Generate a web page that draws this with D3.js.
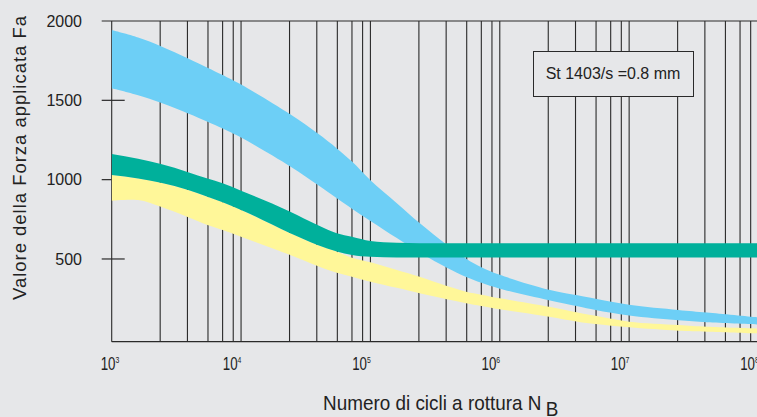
<!DOCTYPE html>
<html><head><meta charset="utf-8">
<script src="https://cdn.jsdelivr.net/npm/d3@7"></script>
<style>html,body{margin:0;padding:0;background:#e6e7e9;overflow:hidden}svg{display:block}</style>
</head><body><svg id="c" width="757" height="417"></svg>
<script>
// ---- data ----
const cycles      = [1e3,1.6e3,2.4e3,3.9e3,5.5e3,7.2e3,1e4,2.4e4,3.9e4,5.5e4,7.2e4,1e5,1.6e5,2.4e5,3.9e5,5.5e5,7.2e5,1e6,2.4e6,4e6,5.5e6,1e7,2.4e7,4e7,1e8];
const blueUpper   = [1943,1896,1841,1764,1706,1660,1600,1412,1292,1197,1114,997,852,727,590,502,448,400,306,271,250,212,179,162,131];
const blueLower   = [1576,1532,1484,1417,1365,1322,1265,1083,968,883,817,740,632,541,445,387,350,313,240,202,178,143,113,101,87];
const greenUpper  = [1162,1132,1098,1047,1007,977,930,798,714,662,640,613,602,599,599,599,599,599,599,599,599,599,599,599,599];
const greenLower  = [1029,1007,981,935,892,857,809,662,588,547,525,514,509,510,510,510,510,510,510,510,510,510,510,510,510];
const yellowUpper = [1029,1007,981,935,892,857,809,662,588,546,508,479,430,388,330,294,275,252,199,163,142,105,84,73,62];
const yellowLower = [867,871,829,763,714,683,640,525,456,413,388,357,318,284,246,221,204,183,136,105,90,69,48,42,31];
const yTicks = [2000,1500,1000,500];
const crossTicks = [1500,500];
const decades = [1e3,1e4,1e5,1e6,1e7,1e8];
const exponents = [3,4,5,6,7,8];
const gridMultipliers = [2.37,3.85,5.55,7.2,8.7];
const yTitle = "Valore della Forza applicata Fa";
const xTitle = "Numero di cicli a rottura N";
const xTitleSub = "B";
const legendText = "St 1403/s =0.8 mm";

// ---- drawing ----
const W = 757, H = 417;
const bg = "#e6e7e9", ink = "#2a2a2a";
const font = "'Liberation Sans', Arial, Helvetica, sans-serif";
const svg = d3.select("#c");
svg.append("rect").attr("width", W).attr("height", H).attr("fill", bg);

const x = d3.scaleLog().domain([1e3, 1e8]).range([111.7, 758.5]);
const y = d3.scaleLinear().domain([0, 2000]).range([338.3, 21]);
const plotTop = y(2000), plotBottom = y(-21), plotLeft = x(1e3), plotRight = W;

svg.append("defs").append("clipPath").attr("id", "clip")
  .append("rect").attr("x", plotLeft).attr("y", plotTop)
  .attr("width", plotRight - plotLeft).attr("height", plotBottom - plotTop);

// vertical gridlines
const gridVals = decades.slice();
decades.slice(0, -1).forEach(d => gridMultipliers.forEach(m => gridVals.push(d * m)));
svg.append("g").selectAll("line").data(gridVals).join("line")
  .attr("x1", d => x(d)).attr("x2", d => x(d))
  .attr("y1", plotTop).attr("y2", plotBottom)
  .attr("stroke", ink).attr("stroke-width", 1.1);

// y ticks
svg.append("g").selectAll("line").data(yTicks).join("line")
  .attr("x1", plotLeft - 10)
  .attr("x2", d => d === 2000 ? plotRight : plotLeft + (crossTicks.includes(d) ? 13 : 0))
  .attr("y1", d => y(d)).attr("y2", d => y(d))
  .attr("stroke", ink).attr("stroke-width", 1.2);
// bottom line
svg.append("line").attr("x1", plotLeft).attr("x2", plotRight)
  .attr("y1", plotBottom).attr("y2", plotBottom).attr("stroke", ink).attr("stroke-width", 1.2);

// bands
const rows = cycles.map((c, i) => ({c, bu: blueUpper[i], bl: blueLower[i], gu: greenUpper[i], gl: greenLower[i], yu: yellowUpper[i], yl: yellowLower[i]}));
const band = (lo, hi, curve) => d3.area().x(d => x(d.c)).y0(d => y(d[lo])).y1(d => y(d[hi])).curve(curve);
const bands = svg.append("g").attr("clip-path", "url(#clip)");
bands.append("path").datum(rows).attr("d", band("bl", "bu", d3.curveCatmullRom.alpha(0.5))).attr("fill", "#6dcff6");
bands.append("path").datum(rows).attr("d", band("yl", "yu", d3.curveCatmullRom.alpha(0.5))).attr("fill", "#fff799");
bands.append("path").datum(rows).attr("d", band("gl", "gu", d3.curveMonotoneX)).attr("fill", "#00b09b");

// legend box
const lg = svg.append("g");
lg.append("rect").attr("x", 533.5).attr("y", 51.5).attr("width", 160).attr("height", 45)
  .attr("fill", bg).attr("stroke", ink).attr("stroke-width", 1);
lg.append("text").attr("x", 613).attr("y", 79.3).attr("text-anchor", "middle")
  .attr("font-family", font).attr("font-size", 16).attr("fill", "#222").text(legendText);

// y tick labels
svg.append("g").selectAll("text").data(yTicks).join("text")
  .attr("x", 82).attr("y", d => y(d)).attr("dy", "0.36em")
  .attr("text-anchor", "end").attr("font-family", font).attr("font-size", 16)
  .attr("fill", "#222").text(d => d);

// x tick labels (10^n)
const xl = svg.append("g").selectAll("g").data(decades).join("g")
  .attr("transform", d => `translate(${Math.max(x(d) - 9, 110)},370) scale(0.76,1)`);
const xt = xl.append("text").attr("text-anchor", "middle").attr("font-family", font)
  .attr("font-size", 17.5).attr("fill", "#222");
xt.append("tspan").text("10");
xt.append("tspan").attr("font-size", 9).attr("dy", -7.5).text((d, i) => exponents[i]);

// axis titles
svg.append("text").attr("transform", "translate(26,158) rotate(-90)")
  .attr("text-anchor", "middle").attr("font-family", font).attr("font-size", 18.5)
  .attr("textLength", 284).attr("lengthAdjust", "spacing")
  .attr("fill", "#222").text(yTitle);
const xtt = svg.append("g").attr("transform", "translate(323,410) scale(0.9,1)")
  .append("text").attr("font-family", font).attr("font-size", 21).attr("fill", "#222");
xtt.append("tspan").text(xTitle);
xtt.append("tspan").attr("dx", 5).attr("dy", 6).text(xTitleSub);
</script></body></html>
